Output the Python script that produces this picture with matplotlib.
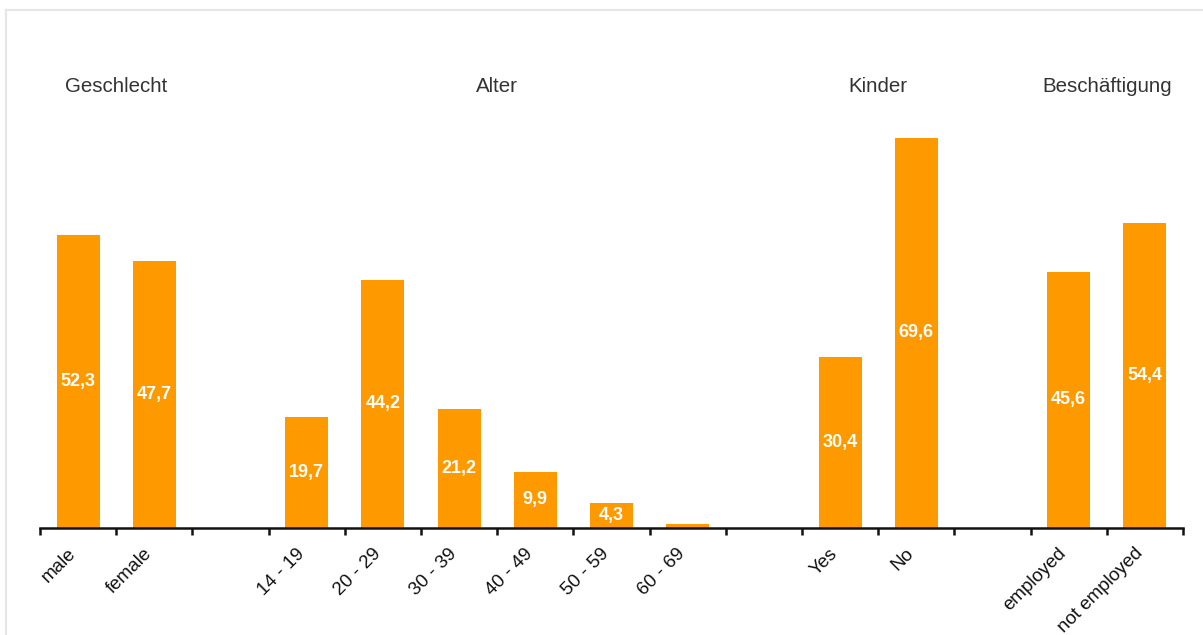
import matplotlib
matplotlib.use("Agg")
import matplotlib.pyplot as plt
import matplotlib.transforms as mtransforms
from matplotlib.lines import Line2D

plt.rcParams['font.family'] = ['Liberation Sans', 'DejaVu Sans']

# ---- data ----
categories = ["male", "female", "", "14 - 19", "20 - 29", "30 - 39", "40 - 49",
              "50 - 59", "60 - 69", "", "Yes", "No", "", "employed", "not employed"]
values = [52.3, 47.7, None, 19.7, 44.2, 21.2, 9.9, 4.3, 0.7, None, 30.4, 69.6,
          None, 45.6, 54.4]
value_labels = ["52,3", "47,7", "", "19,7", "44,2", "21,2", "9,9", "4,3", "",
                "", "30,4", "69,6", "", "45,6", "54,4"]
group_titles = ["Geschlecht", "Alter", "Kinder", "Beschäftigung"]
group_spans = [(0, 1), (3, 8), (10, 11), (13, 14)]

W, H = 1203, 635
fig = plt.figure(figsize=(W / 100, H / 100), dpi=100)

# light frame
fig.add_artist(Line2D([5.5 / W, 5.5 / W], [0, 1 - 9.5 / H], transform=fig.transFigure,
                      color="#e6e6e6", lw=1.6))
fig.add_artist(Line2D([5.5 / W, 1], [1 - 9.5 / H, 1 - 9.5 / H], transform=fig.transFigure,
                      color="#e6e6e6", lw=1.6))

axis_y = 527.5
top_px = 100
px_per_unit = 5.593
ax = fig.add_axes([40 / W, 1 - axis_y / H, (1183 - 40) / W, (axis_y - top_px) / H])
ax.set_xlim(-0.5, len(categories) - 0.5)
ax.set_ylim(0, (axis_y - top_px) / px_per_unit)

xs = list(range(len(categories)))
bx = [x for x, v in zip(xs, values) if v is not None]
bv = [v for v in values if v is not None]
ax.bar(bx, bv, width=0.565, color="#FF9900", zorder=2)

for x, v, lab in zip(xs, values, value_labels):
    if v is not None and lab:
        ax.text(x, v / 2, lab, ha="center", va="center", color="white",
                fontsize=13, fontweight="bold", zorder=3)

for sp in ["left", "right", "top"]:
    ax.spines[sp].set_visible(False)
ax.spines["bottom"].set_linewidth(1.8)
ax.spines["bottom"].set_color("#111111")
ax.set_yticks([])

# major ticks at slot boundaries, minor tick labels at centers
ax.set_xticks([i - 0.5 for i in range(len(categories) + 1)])
ax.set_xticklabels([])
ax.tick_params(axis="x", which="major", direction="out", length=5, width=1.8,
               color="#111111")
ax.set_xticks(xs, minor=True)
ax.set_xticklabels(categories, minor=True)
ax.tick_params(axis="x", which="minor", length=0, pad=17, labelsize=13.5,
               labelcolor="#111111")
offset = mtransforms.ScaledTranslation(-5 / 100, 0, fig.dpi_scale_trans)
for lbl in ax.get_xticklabels(minor=True):
    lbl.set_rotation(45)
    lbl.set_ha("right")
    lbl.set_va("center")
    lbl.set_rotation_mode("anchor")
    lbl.set_transform(lbl.get_transform() + offset)

# group titles
trans = mtransforms.blended_transform_factory(ax.transData, fig.transFigure)
for title, (a, b) in zip(group_titles, group_spans):
    ax.text((a + b) / 2, 1 - 86 / H, title, transform=trans, ha="center",
            va="center", fontsize=14.8, color="#333333")

fig.savefig("out.png", dpi=100)
